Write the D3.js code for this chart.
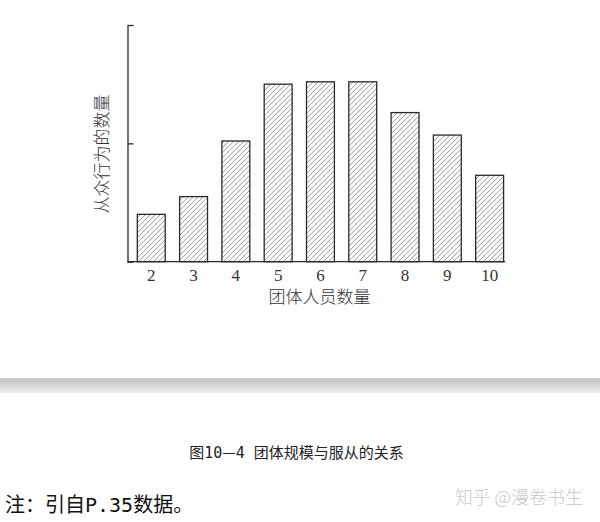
<!DOCTYPE html>
<html>
<head>
<meta charset="utf-8">
<script src="https://cdn.jsdelivr.net/npm/d3@7/dist/d3.min.js"></script>
<style>
  html, body { margin: 0; padding: 0; background: #fff; }
  svg { display: block; }
</style>
</head>
<body>
<svg id="chart" width="600" height="522"></svg>
<script>
// group size on the x axis, amount of conforming behaviour on the y axis
const groupSizes = ['2', '3', '4', '5', '6', '7', '8', '9', '10'];
const conformity = [0.40, 0.55, 1.02, 1.50, 1.52, 1.52, 1.26, 1.07, 0.73];
const yTicks = [0, 1, 2];

const xTitle = '团体人员数量';
const yTitle = '从众行为的数量';
const captionParts = ['图10', '—', '4 团体规模与服从的关系'];
const note = '注：引自P.35数据。';
const watermark = '知乎 @漫卷书生';

const data = groupSizes.map((g, i) => ({ size: g, value: conformity[i] }));

const svg = d3.select('#chart');

let x = d3.scaleBand()
  .domain(groupSizes)
  .range([127.5, 513.4])
  .paddingInner(0.34)
  .paddingOuter(0.232);

let y = d3.scaleLinear().domain([0, 2]).range([261.7, 25]);

// hatch pattern + grey band gradient
const defs = svg.append('defs');
const pat = defs.append('pattern')
  .attr('id', 'hatch')
  .attr('patternUnits', 'userSpaceOnUse')
  .attr('width', 5)
  .attr('height', 5);
pat.append('rect').attr('width', 5).attr('height', 5).attr('fill', '#fcfcfc');
pat.append('path')
  .attr('d', 'M0,5 L5,0 M-1,1 L1,-1 M4,6 L6,4')
  .attr('stroke', '#858585')
  .attr('stroke-width', 0.75);

const grad = defs.append('linearGradient')
  .attr('id', 'band')
  .attr('x1', 0).attr('y1', 0).attr('x2', 0).attr('y2', 1);
grad.append('stop').attr('offset', 0).attr('stop-color', '#d2d2d2');
grad.append('stop').attr('offset', 0.15).attr('stop-color', '#c6c6c6');
grad.append('stop').attr('offset', 1).attr('stop-color', '#eeeeee');

// bars
svg.append('g')
  .selectAll('rect')
  .data(data)
  .join('rect')
  .attr('x', (d) => x(d.size))
  .attr('y', (d) => y(d.value))
  .attr('width', x.bandwidth())
  .attr('height', (d) => y(0) - y(d.value))
  .attr('fill', 'url(#hatch)')
  .attr('stroke', '#2a2a2a')
  .attr('stroke-width', 1.3);

// y axis: ticks pointing inward, no labels
const yAxis = svg.append('g')
  .attr('transform', `translate(${x.range()[0]},0)`)
  .call(d3.axisLeft(y).tickValues(yTicks).tickSize(-6).tickSizeOuter(0).tickFormat(''));
yAxis.selectAll('path, line').attr('stroke', '#2a2a2a').attr('stroke-width', 1.3);

// x axis: labels only, baseline drawn to the last bar
const xAxis = svg.append('g')
  .attr('transform', `translate(0,${y(0)})`)
  .call(d3.axisBottom(x).tickSize(0).tickPadding(7));
xAxis.select('.domain').remove();
xAxis.selectAll('text')
  .attr('fill', '#333')
  .style('font-family', '"Liberation Serif", "DejaVu Serif", serif')
  .style('font-size', '17px');

const last = groupSizes[groupSizes.length - 1];
svg.append('line')
  .attr('x1', x.range()[0])
  .attr('x2', x(last) + x.bandwidth() + 1.5)
  .attr('y1', y(0))
  .attr('y2', y(0))
  .attr('stroke', '#2a2a2a')
  .attr('stroke-width', 1.3);

// axis titles
svg.append('text')
  .attr('x', 319.5)
  .attr('y', 303)
  .attr('text-anchor', 'middle')
  .attr('fill', '#333')
  .style('font-family', '"Noto Sans CJK SC", sans-serif')
  .style('font-size', '17px')
  .style('font-weight', 300)
  .text(xTitle);

svg.append('text')
  .attr('transform', 'translate(100,154) rotate(-90)')
  .attr('text-anchor', 'middle')
  .attr('dominant-baseline', 'central')
  .attr('fill', '#333')
  .style('font-family', '"Noto Sans CJK SC", sans-serif')
  .style('font-size', '17px')
  .style('font-weight', 300)
  .text(yTitle);

// grey separator band
svg.append('rect')
  .attr('x', 0)
  .attr('y', 378)
  .attr('width', 600)
  .attr('height', 15)
  .attr('fill', 'url(#band)');

// caption, note and watermark
const cap = svg.append('text')
  .attr('x', 296.5)
  .attr('y', 457.5)
  .attr('text-anchor', 'middle')
  .attr('fill', '#222')
  .style('font-family', '"DejaVu Sans Mono", "Noto Sans CJK SC", monospace')
  .style('font-size', '15px');
cap.selectAll('tspan')
  .data(captionParts)
  .join('tspan')
  .style('font-family', (d, i) => (i === 1 ? '"Noto Sans CJK SC", sans-serif' : null))
  .text((d) => d);

svg.append('text')
  .attr('x', 5)
  .attr('y', 512)
  .attr('fill', '#111')
  .style('font-family', '"DejaVu Sans Mono", "Noto Sans CJK SC", monospace')
  .style('font-size', '20px')
  .text(note);

svg.append('text')
  .attr('x', 583)
  .attr('y', 504)
  .attr('text-anchor', 'end')
  .attr('fill', '#c9c9c9')
  .style('font-family', '"Noto Sans CJK SC", sans-serif')
  .style('font-size', '18px')
  .style('font-weight', 300)
  .text(watermark);
</script>
</body>
</html>
